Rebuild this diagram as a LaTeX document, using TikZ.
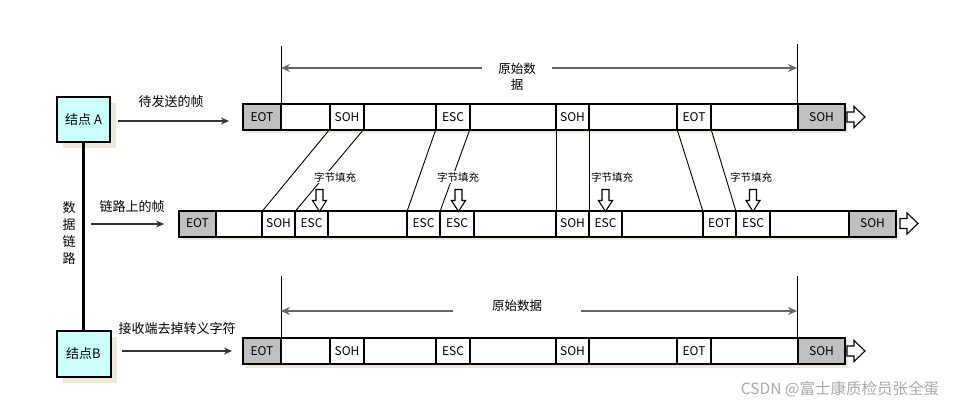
\documentclass[tikz,border=0pt]{standalone}
\usepackage{fontspec}
\setmainfont{Noto Sans CJK SC}
\usetikzlibrary{arrows.meta}
\definecolor{nodecyan}{HTML}{CCFFFF}
\definecolor{shadowc}{HTML}{ECE9D8}
\definecolor{cellgray}{HTML}{C0C0C0}
\definecolor{dimgray}{HTML}{666666}
\definecolor{wmgray}{HTML}{A8A8A8}
\newcommand\fcell[6]{%
  \pgfmathsetmacro\cw{#3-#2}%
  \node[cellbox, fill=#5, minimum width=\cw pt] (#1) at (#2,#4) {#6};}
\begin{document}
\begin{tikzpicture}[x=1pt,y=-1pt,
  cellbox/.style={draw, line width=2pt, minimum height=26pt, inner sep=0pt, outer sep=0pt, anchor=west, font=\fontsize{12}{14}\selectfont},
  station/.style={draw, line width=2pt, fill=nodecyan, minimum width=53pt, minimum height=45pt, inner sep=0pt, outer sep=0pt, font=\fontsize{13}{15}\selectfont},
  lbl/.style={inner sep=0pt, font=\fontsize{13}{15}\selectfont},
  stuff/.style={fill=white, inner sep=1pt, font=\fontsize{10.5}{12}\selectfont},
  arr/.style={draw=black!80, line width=1.2pt, -{Stealth[length=8pt,width=7pt]}},
  dimline/.style={draw=dimgray, line width=1.6pt, {Stealth[length=9pt,width=8pt,inset=3pt]}-{Stealth[length=9pt,width=8pt,inset=3pt]}},
  thin/.style={draw=black, line width=0.9pt},
  hdown/.pic={\draw[line width=1.1pt, fill=white] (-3.5,-22) -- (3.5,-22) -- (3.5,-11) -- (7,-11) -- (0,0) -- (-7,-11) -- (-3.5,-11) -- cycle;},
  hright/.pic={\draw[line width=1.1pt, fill=white] (0,-5) -- (7,-5) -- (7,-10.5) -- (18,0) -- (7,10.5) -- (7,5) -- (0,5) -- cycle;}
]
\useasboundingbox (0,0) rectangle (956,409);

% shadows
\fill[shadowc] (63,103) rectangle (116,148);
\fill[shadowc] (63,337) rectangle (117,383);
\fill[shadowc] (246,107) rectangle (848,133);
\fill[shadowc] (182,213) rectangle (899,240);
\fill[shadowc] (246,340) rectangle (848,368);

% stations
\node[station] (nodeA) at (83.5,119.5) {结点 A};
\node[station, minimum width=54pt, minimum height=46pt] (nodeB) at (83.5,354) {结点B};
\draw[line width=3pt] (nodeA.south) -- (nodeB.north);
\node[lbl, align=center, font=\fontsize{13}{17}\selectfont] (link) at (69,233.5) {数\\据\\链\\路};

% row 1
\fcell{r1eot}{243}{281}{117}{cellgray}{EOT}
\fcell{r1b1}{281}{330}{117}{white}{}
\fcell{r1soh}{330}{364}{117}{white}{SOH}
\fcell{r1b2}{364}{436}{117}{white}{}
\fcell{r1esc}{436}{470}{117}{white}{ESC}
\fcell{r1b3}{470}{556}{117}{white}{}
\fcell{r1soh2}{556}{589}{117}{white}{SOH}
\fcell{r1b4}{589}{677}{117}{white}{}
\fcell{r1eot2}{677}{711}{117}{white}{EOT}
\fcell{r1b5}{711}{798}{117}{white}{}
\fcell{r1sohE}{798}{845}{117}{cellgray}{SOH}
\pic at ([xshift=2pt]r1sohE.east) {hright};

% row 2
\fcell{r2eot}{179}{216}{223.5}{cellgray}{EOT}
\fcell{r2b1}{216}{262}{223.5}{white}{}
\fcell{r2soh}{262}{295}{223.5}{white}{SOH}
\fcell{r2esc}{295}{328}{223.5}{white}{ESC}
\fcell{r2b2}{328}{407}{223.5}{white}{}
\fcell{r2esc2}{407}{440}{223.5}{white}{ESC}
\fcell{r2esc3}{440}{474}{223.5}{white}{ESC}
\fcell{r2b3}{474}{556}{223.5}{white}{}
\fcell{r2soh2}{556}{589}{223.5}{white}{SOH}
\fcell{r2esc4}{589}{622}{223.5}{white}{ESC}
\fcell{r2b4}{622}{703}{223.5}{white}{}
\fcell{r2eot2}{703}{736}{223.5}{white}{EOT}
\fcell{r2esc5}{736}{770}{223.5}{white}{ESC}
\fcell{r2b5}{770}{849}{223.5}{white}{}
\fcell{r2sohE}{849}{896}{223.5}{cellgray}{SOH}
\pic at ([xshift=4pt]r2sohE.east) {hright};

% row 3
\fcell{r3eot}{243}{281}{351}{cellgray}{EOT}
\fcell{r3b1}{281}{330}{351}{white}{}
\fcell{r3soh}{330}{364}{351}{white}{SOH}
\fcell{r3b2}{364}{436}{351}{white}{}
\fcell{r3esc}{436}{470}{351}{white}{ESC}
\fcell{r3b3}{470}{556}{351}{white}{}
\fcell{r3soh2}{556}{589}{351}{white}{SOH}
\fcell{r3b4}{589}{677}{351}{white}{}
\fcell{r3eot2}{677}{711}{351}{white}{EOT}
\fcell{r3b5}{711}{798}{351}{white}{}
\fcell{r3sohE}{798}{845}{351}{cellgray}{SOH}
\pic at ([xshift=2pt]r3sohE.east) {hright};

% mapping lines row1 -> row2
\draw[thin] ([yshift=1pt]r1soh.south west) -- ([yshift=-1pt]r2soh.north west);
\draw[thin] ([yshift=1pt]r1soh.south east) -- ([yshift=-1pt]r2esc.north west);
\draw[thin] ([yshift=1pt]r1esc.south west) -- ([yshift=-1pt]r2esc2.north west);
\draw[thin] ([yshift=1pt]r1esc.south east) -- ([yshift=-1pt]r2esc3.north west);
\draw[thin] ([yshift=1pt]r1soh2.south west) -- ([yshift=-1pt]r2soh2.north west);
\draw[thin] ([yshift=1pt]r1soh2.south east) -- ([yshift=-1pt]r2esc4.north west);
\draw[thin] ([yshift=1pt]r1eot2.south west) -- ([yshift=-1pt]r2eot2.north west);
\draw[thin] ([yshift=1pt]r1eot2.south east) -- ([yshift=-1pt]r2esc5.north west);

% byte stuffing labels and arrows
\node[stuff] (st1) at (335,177) {字节填充};
\node[stuff] (st2) at (458,177) {字节填充};
\node[stuff] (st3) at (612,177) {字节填充};
\node[stuff] (st4) at (751,177) {字节填充};
\pic at ([xshift=8pt,yshift=-1pt]r2esc.north) {hdown};
\pic at ([xshift=1.5pt,yshift=-1pt]r2esc3.north) {hdown};
\pic at ([yshift=-1pt]r2esc4.north) {hdown};
\pic at ([yshift=-1pt]r2esc5.north) {hdown};

% input/output arrows
\coordinate (a1s) at (118,121); \coordinate (a1e) at (229,121);
\draw[arr] (a1s) -- (a1e);
\node[lbl] (t1) at (171,102) {待发送的帧};
\coordinate (a2s) at (91,224); \coordinate (a2e) at (164,224);
\draw[arr] (a2s) -- (a2e);
\node[lbl] (t2) at (132,207) {链路上的帧};
\coordinate (a3s) at (122,351); \coordinate (a3e) at (232,351);
\draw[arr] (a3s) -- (a3e);
\node[lbl] (t3) at (177,329) {接收端去掉转义字符};

% dimension row 1
\coordinate (d1l) at (281,46); \coordinate (d1r) at (797,44);
\draw[thin] (d1l) -- (r1b1.north west);
\draw[thin] (d1r) -- ([xshift=-1pt]r1sohE.north west);
\coordinate (d1a) at (281,68); \coordinate (d1b) at (797,68);
\draw[dimline] (d1a) -- (d1b);
\node[fill=white, inner xsep=16pt, inner ysep=2pt, align=center, font=\fontsize{12.5}{16}\selectfont] (dim1) at (517,77) {原始数\\据};

% dimension row 3
\coordinate (d3l) at (281,276); \coordinate (d3r) at (797,276);
\draw[thin] (d3l) -- (r3b1.north west);
\draw[thin] (d3r) -- ([xshift=-1pt]r3sohE.north west);
\coordinate (d3a) at (281,311); \coordinate (d3b) at (797,311);
\draw[dimline] (d3a) -- (d3b);
\node[fill=white, inner xsep=39pt, inner ysep=3pt, font=\fontsize{12.5}{15}\selectfont] (dim3) at (517,306) {原始数据};

% watermark
\node[text=wmgray, inner sep=0pt, font=\fontsize{15.5}{18}\selectfont] (wm) at (840,389) {CSDN @富士康质检员张全蛋};
\end{tikzpicture}
\end{document}
